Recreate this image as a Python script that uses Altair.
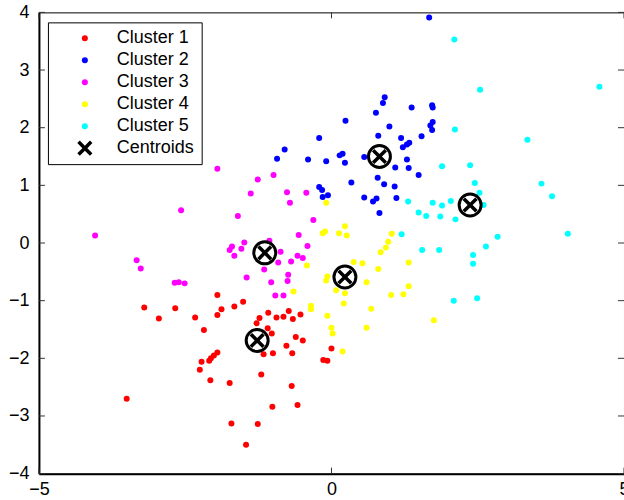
import altair as alt
import pandas as pd

# k-means result: five clusters of 2-D points and their centroids
cluster1_x = [-1.95, -1.51, -1.66, -3.20, -2.67, -1.88, -1.95, -2.95, -2.33, -2.18,
              -1.08, -0.73, -0.53, -1.23, -0.94, -0.82, -0.66, -1.28, -1.09, -1.02,
              -0.61, -0.49, -0.77, -1.00, -1.16, -0.67, 0.00, -0.14, -0.07, -1.95,
              -2.01, -2.06, -2.09, -2.22, -2.25, -1.20, -2.07, -1.74, -0.68, -3.50,
              -1.01, -0.58, -1.71, -1.26, -1.46]
cluster1_y = [-0.90, -1.02, -1.10, -1.12, -1.13, -1.15, -1.25, -1.31, -1.29, -1.51,
              -1.21, -1.18, -1.24, -1.30, -1.29, -1.28, -1.32, -1.39, -1.48, -1.57,
              -1.63, -1.69, -1.78, -1.91, -1.93, -1.91, -1.83, -2.03, -2.04, -1.90,
              -1.95, -2.00, -2.04, -2.06, -2.20, -2.28, -2.38, -2.43, -2.48, -2.70,
              -2.84, -2.81, -3.13, -3.14, -3.50]

cluster2_x = [1.67, 0.91, 0.88, 0.76, 1.37, 1.72, 1.73, 0.24, 0.99, 1.73,
              1.69, 1.72, 1.54, -0.21, 0.80, 1.19, 1.33, 1.29, 1.22, -0.80,
              -0.93, -0.40, -0.09, 0.14, 0.19, 0.23, 0.56, 1.29, 1.09, 1.32,
              1.49, 0.34, 0.79, 0.90, 1.08, -0.21, -0.16, -0.06, -0.15, 0.56,
              0.71, 0.77, 1.11, 0.82]
cluster2_y = [3.91, 2.53, 2.43, 2.26, 2.35, 2.39, 2.35, 2.12, 2.02, 2.10,
              2.04, 1.96, 1.85, 1.82, 1.86, 1.82, 1.74, 1.71, 1.66, 1.62,
              1.46, 1.45, 1.42, 1.52, 1.55, 1.39, 1.49, 1.45, 1.31, 1.30,
              1.18, 1.05, 1.13, 1.02, 0.98, 0.97, 0.92, 0.83, 0.80, 0.79,
              0.72, 0.77, 0.78, 0.52]

cluster3_x = [-1.95, -0.99, -1.26, -1.38, -0.76, -0.43, -0.71, -2.57, -1.60, -0.31,
              -4.04, -0.56, -0.41, -1.70, -1.74, -1.66, -1.54, -1.49, -1.06, -0.87,
              -0.69, -0.58, -0.49, -0.91, -1.15, -0.74, -0.75, -1.45, -1.03, -0.96,
              -0.82, -3.33, -3.26, -2.68, -2.61, -2.51]
cluster3_y = [1.29, 1.18, 1.10, 0.86, 0.88, 0.87, 0.70, 0.57, 0.47, 0.40,
              0.13, 0.14, -0.05, -0.06, -0.12, -0.22, -0.10, 0.01, 0.04, -0.15,
              -0.32, -0.22, -0.26, -0.34, -0.46, -0.55, -0.66, -0.60, -0.68, -0.91,
              -0.91, -0.30, -0.44, -0.69, -0.68, -0.70]

cluster4_x = [-0.09, 0.23, -0.15, -0.11, 0.13, 0.26, 1.03, 0.97, 0.93, 0.84,
              -0.42, 0.38, 0.53, 0.80, 1.32, -0.07, -0.09, 0.60, -0.65, 0.08,
              0.23, 1.32, 1.02, 1.23, 0.21, 0.68, -0.35, -0.35, -0.07, 0.00,
              0.02, 0.60, 0.19, 1.75]
cluster4_y = [0.70, 0.29, 0.17, 0.20, 0.17, 0.13, 0.16, 0.02, -0.08, -0.16,
              -0.39, -0.33, -0.35, -0.45, -0.34, -0.58, -0.65, -0.68, -0.84, -0.82,
              -0.87, -0.75, -0.90, -0.89, -1.05, -1.14, -1.09, -1.15, -1.26, -1.47,
              -1.57, -1.47, -1.88, -1.34]

cluster5_x = [2.10, 2.54, 4.58, 2.11, 3.35, 1.89, 2.37, 2.45, 2.53, 3.59,
              3.77, 1.73, 1.89, 2.04, 2.60, 1.31, 1.49, 1.62, 1.86, 2.12,
              4.04, 2.84, 2.64, 1.55, 1.84, 2.42, 2.42, 2.09, 2.49, 1.20]
cluster5_y = [3.53, 2.66, 2.71, 1.97, 1.79, 1.33, 1.35, 1.04, 0.87, 1.03,
              0.81, 0.70, 0.65, 0.73, 0.66, 0.72, 0.53, 0.47, 0.46, 0.41,
              0.16, 0.11, -0.06, -0.12, -0.12, -0.21, -0.36, -1.00, -0.96, 0.15]

centroid_x = [-1.27, 0.82, -1.14, 0.23, 2.37]
centroid_y = [-1.69, 1.50, -0.17, -0.59, 0.66]

x_ticks = [-5, 0, 5]
y_ticks = [-4, -3, -2, -1, 0, 1, 2, 3, 4]

labels = ["Cluster 1", "Cluster 2", "Cluster 3", "Cluster 4", "Cluster 5", "Centroids"]
colors = ["#ff0000", "#0000ff", "#ff00ff", "#ffff00", "#00ffff", "#000000"]

# filled "x" glyph in the unit square
X_GLYPH = ("M-1,-0.67L-0.67,-1L0,-0.33L0.67,-1L1,-0.67L0.33,0L1,0.67L0.67,1"
           "L0,0.33L-0.67,1L-1,0.67L-0.33,0Z")
shapes = ["circle"] * 5 + [X_GLYPH]
sizes = [36] * 5 + [230]

series = [(cluster1_x, cluster1_y), (cluster2_x, cluster2_y), (cluster3_x, cluster3_y),
          (cluster4_x, cluster4_y), (cluster5_x, cluster5_y), (centroid_x, centroid_y)]
rows = []
for name, (xs, ys) in zip(labels, series):
    for xv, yv in zip(xs, ys):
        rows.append({"x": xv, "y": yv, "label": name})
points_df = pd.DataFrame(rows)
centroids_df = pd.DataFrame({"x": centroid_x, "y": centroid_y})
xt_df = pd.DataFrame({"v": x_ticks})
yt_df = pd.DataFrame({"v": y_ticks})

FONT = "Liberation Sans"
W, H = 586, 462
xscale = alt.Scale(domain=[-5, 5], nice=False, zero=False)
yscale = alt.Scale(domain=[-4, 4], nice=False, zero=False)

legend = alt.Legend(title=None, orient="none", legendX=9, legendY=10)

points = alt.Chart(points_df).mark_point(filled=True, opacity=1).encode(
    x=alt.X("x:Q", scale=xscale,
            axis=alt.Axis(values=x_ticks, format="d", title=None, labelPadding=7,
                          labelFlush=False)),
    y=alt.Y("y:Q", scale=yscale,
            axis=alt.Axis(values=y_ticks, format="d", title=None, labelPadding=10,
                          labelFlush=False)),
    color=alt.Color("label:N", scale=alt.Scale(domain=labels, range=colors), legend=legend),
    shape=alt.Shape("label:N", scale=alt.Scale(domain=labels, range=shapes), legend=legend),
    size=alt.Size("label:N", scale=alt.Scale(type="ordinal", domain=labels, range=sizes),
                  legend=legend),
)

rings = alt.Chart(centroids_df).mark_point(
    shape="circle", filled=False, color="black", strokeWidth=3, size=484, opacity=1
).encode(
    x=alt.X("x:Q", scale=xscale),
    y=alt.Y("y:Q", scale=yscale),
)

tick_style = dict(color="#333333", strokeWidth=1)
xt_bottom = alt.Chart(xt_df).mark_rule(**tick_style).encode(
    x=alt.X("v:Q", scale=xscale), y=alt.value(H), y2=alt.value(H - 6))
xt_top = alt.Chart(xt_df).mark_rule(**tick_style).encode(
    x=alt.X("v:Q", scale=xscale), y=alt.value(0), y2=alt.value(6))
yt_left = alt.Chart(yt_df).mark_rule(**tick_style).encode(
    y=alt.Y("v:Q", scale=yscale), x=alt.value(0), x2=alt.value(6))
yt_right = alt.Chart(yt_df).mark_rule(**tick_style).encode(
    y=alt.Y("v:Q", scale=yscale), x=alt.value(W), x2=alt.value(W - 6))

chart = alt.layer(points, rings, xt_bottom, xt_top, yt_left, yt_right).properties(
    width=W, height=H,
    autosize=alt.AutoSizeParams(type="none"),
    padding={"left": 39, "top": 12, "right": 0, "bottom": 26},
).configure_view(
    stroke="black", strokeWidth=1
).configure_axis(
    grid=False, ticks=False, domain=True, domainColor="black", domainWidth=2,
    labelFont=FONT, labelFontSize=18, labelColor="black",
).configure_legend(
    labelFont=FONT, labelFontSize=18, labelColor="black",
    strokeColor="black", fillColor="white", padding=7,
    symbolOffset=21, labelOffset=23, rowPadding=4,
    symbolStrokeWidth=0, symbolOpacity=1,
)

chart.save("out.html", embed_options={"renderer": "svg", "actions": False})
